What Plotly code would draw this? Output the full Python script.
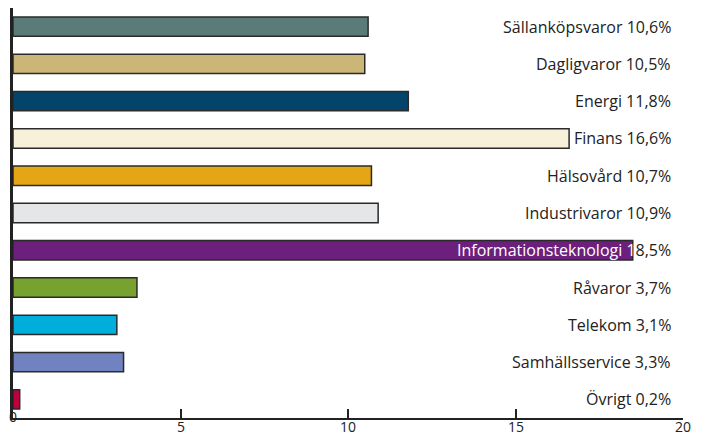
import plotly.graph_objects as go

categories = ["Sällanköpsvaror", "Dagligvaror", "Energi", "Finans", "Hälsovård",
              "Industrivaror", "Informationsteknologi", "Råvaror", "Telekom",
              "Samhällsservice", "Övrigt"]
values = [10.6, 10.5, 11.8, 16.6, 10.7, 10.9, 18.5, 3.7, 3.1, 3.3, 0.2]
value_labels = ["10,6%", "10,5%", "11,8%", "16,6%", "10,7%", "10,9%", "18,5%",
                "3,7%", "3,1%", "3,3%", "0,2%"]
colors = ["#5A7C78", "#CBB577", "#02446A", "#F7F1DA", "#E4A614", "#E5E6E8",
          "#6C1F7D", "#78A22F", "#00AEDB", "#7082C0", "#C0003C"]
x_ticks = [5, 10, 15, 20]

FONT = "Open Sans"
TXT = "#222222"

fig = go.Figure()
fig.add_trace(go.Bar(
    y=categories, x=values, orientation="h",
    marker=dict(color=colors, line=dict(color="#2a2a2a", width=1.5)),
    width=0.52, hoverinfo="skip",
))

annotations = []
for cat, val, lab in zip(categories, values, value_labels):
    if cat == "Informationsteknologi":
        text = "<span style='color:white'>" + cat + " 1</span>" + lab[1:]
    else:
        text = cat + " " + lab
    annotations.append(dict(
        x=19.7, y=cat, xref="x", yref="y", text=text, showarrow=False,
        xanchor="right", yanchor="middle",
        font=dict(family=FONT, size=16, color=TXT),
    ))
# x tick labels drawn as text so their position can be controlled
annotations.append(dict(
    x=0, y=0, xref="x", yref="paper", text="0", showarrow=False,
    xanchor="center", yanchor="middle", yshift=2,
    font=dict(family=FONT, size=14, color=TXT),
))
for t in x_ticks:
    annotations.append(dict(
        x=t, y=0, xref="x", yref="paper", text=str(t), showarrow=False,
        xanchor="center", yanchor="middle", yshift=-8, borderpad=0,
        font=dict(family=FONT, size=14, color=TXT),
    ))

# the page body has an 8px margin, so the figure is 8px smaller and offset
fig.update_layout(
    width=698, height=427,
    margin=dict(l=5, r=23, t=0, b=17),
    paper_bgcolor="white", plot_bgcolor="white",
    showlegend=False,
    annotations=annotations,
    xaxis=dict(range=[0, 20], tickvals=x_ticks, showticklabels=False,
               ticks="inside", ticklen=9, tickwidth=2, tickcolor="#222222",
               showline=True, linecolor="#222222", linewidth=2,
               showgrid=False, zeroline=False, automargin=False),
    yaxis=dict(autorange="reversed", showticklabels=False, ticks="",
               showline=True, linecolor="#222222", linewidth=3,
               showgrid=False, zeroline=False, automargin=False),
)

fig.write_html("out.html")
